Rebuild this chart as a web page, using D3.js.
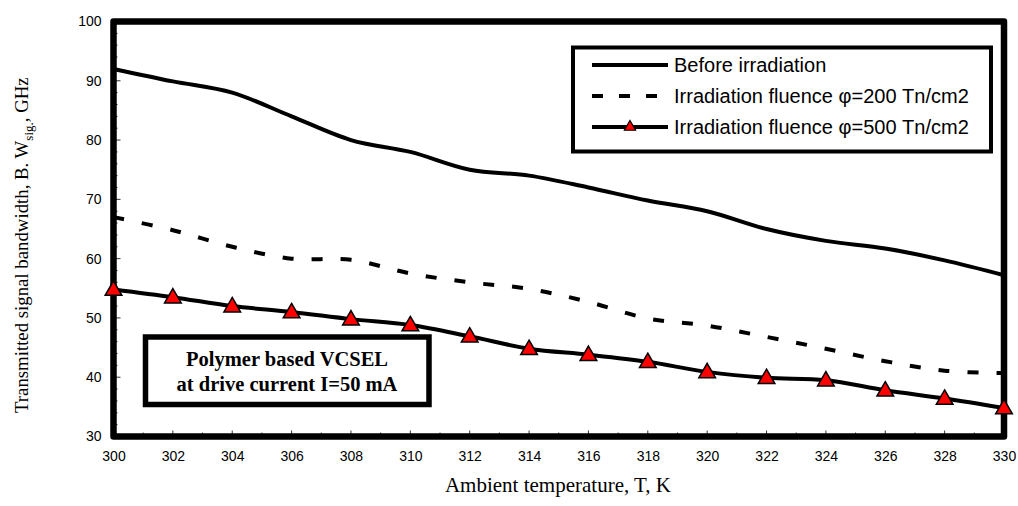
<!DOCTYPE html>
<html><head><meta charset="utf-8">
<script src="https://cdn.jsdelivr.net/npm/d3@7"></script>
<style>
html,body{margin:0;padding:0;background:#fff;}
svg{display:block;}
</style></head>
<body>
<svg id="chart" width="1018" height="506"></svg>
<script>
// ---- data ----
const temperatures = [300,302,304,306,308,310,312,314,316,318,320,322,324,326,328,330];
const beforeIrradiation = [92,89.9,88,84,80,78,75,74,72,69.8,68,65,63,61.7,59.7,57.2];
const fluence200 = [67,64.8,62,60,59.8,57.5,56,54.9,52.7,49.9,48.7,46.8,44.8,42.7,41.1,40.7];
const fluence500 = [54.8,53.5,52,51,49.8,48.8,46.9,44.8,43.8,42.6,40.9,39.9,39.5,37.8,36.4,34.8];
const seriesNames = ["Before irradiation","Irradiation fluence \u03c6=200 Tn/cm2","Irradiation fluence \u03c6=500 Tn/cm2"];
const xTicks = [300,302,304,306,308,310,312,314,316,318,320,322,324,326,328,330];
const yTicks = [30,40,50,60,70,80,90,100];
const noteLines = ["Polymer based VCSEL","at drive current I=50 mA"];

const svg = d3.select("#chart");
const L = 113.5, R = 1004, T = 21.5, B = 436.5;
const x = d3.scaleLinear().domain([300,330]).range([L,R]);
const y = d3.scaleLinear().domain([30,100]).range([B,T]);
const sans = "'Liberation Sans', Arial, sans-serif";
const serif = "'Liberation Serif', 'Times New Roman', serif";

// minor ticks (inside)
const g = svg.append("g");
const xMinor = d3.range(300,331,1);
g.selectAll(".xm").data(xMinor).enter().append("line")
  .attr("x1",d=>x(d)).attr("x2",d=>x(d))
  .attr("y1",B).attr("y2",d=>B-(d%2===0?6:4))
  .attr("stroke","#333").attr("stroke-width",1);
const yMinor = d3.range(30,101,2);
g.selectAll(".ym").data(yMinor).enter().append("line")
  .attr("y1",d=>y(d)).attr("y2",d=>y(d))
  .attr("x1",L).attr("x2",d=>L+(d%10===0?7:4))
  .attr("stroke","#333").attr("stroke-width",1);

// axes labels via d3 axes (domain & ticks hidden)
const xAxis = svg.append("g").attr("transform",`translate(0,${B})`)
  .call(d3.axisBottom(x).tickValues(xTicks).tickSize(0).tickPadding(15).tickFormat(d3.format("d")));
xAxis.select(".domain").remove();
xAxis.selectAll("text").attr("font-family",sans).attr("font-size","14px").attr("fill","#000");
const yAxis = svg.append("g").attr("transform",`translate(${L},0)`)
  .call(d3.axisLeft(y).tickValues(yTicks).tickSize(0).tickPadding(12).tickFormat(d3.format("d")));
yAxis.select(".domain").remove();
yAxis.selectAll("text").attr("font-family",sans).attr("font-size","14px").attr("fill","#000");

// lines
const pts = arr => temperatures.map((t,i)=>[t,arr[i]]);
const line = d3.line().x(d=>x(d[0])).y(d=>y(d[1])).curve(d3.curveCardinal.tension(0));
svg.append("path").attr("d",line(pts(beforeIrradiation))).attr("fill","none")
  .attr("stroke","#000").attr("stroke-width",4);
svg.append("path").attr("d",line(pts(fluence200))).attr("fill","none")
  .attr("stroke","#000").attr("stroke-width",4).attr("stroke-dasharray","11,18");
svg.append("path").attr("d",line(pts(fluence500))).attr("fill","none")
  .attr("stroke","#000").attr("stroke-width",4);

// frame
svg.append("rect").attr("x",L).attr("y",T).attr("width",R-L).attr("height",B-T)
  .attr("fill","none").attr("stroke","#000").attr("stroke-width",6.5).attr("stroke-linejoin","round");

// triangle markers
const tri = d3.symbol().type(d3.symbolTriangle).size(120);
svg.selectAll(".tri").data(pts(fluence500)).enter().append("path")
  .attr("d",tri).attr("transform",d=>`translate(${x(d[0])},${y(d[1])+1})`)
  .attr("fill","#ff0000").attr("stroke","#000").attr("stroke-width",1.5);

// legend
const lg = svg.append("g");
lg.append("rect").attr("x",573).attr("y",47.5).attr("width",418).attr("height",104)
  .attr("fill","#fff").attr("stroke","#000").attr("stroke-width",4);
const rowsY = [65,96,127];
const lx1 = 592, lx2 = 668;
lg.append("line").attr("x1",lx1).attr("x2",lx2).attr("y1",rowsY[0]).attr("y2",rowsY[0]).attr("stroke","#000").attr("stroke-width",4);
lg.append("line").attr("x1",lx1).attr("x2",lx2).attr("y1",rowsY[1]).attr("y2",rowsY[1]).attr("stroke","#000").attr("stroke-width",4).attr("stroke-dasharray","11,16");
lg.append("line").attr("x1",lx1).attr("x2",lx2).attr("y1",rowsY[2]).attr("y2",rowsY[2]).attr("stroke","#000").attr("stroke-width",4);
lg.append("path").attr("d",d3.symbol().type(d3.symbolTriangle).size(55))
  .attr("transform",`translate(${(lx1+lx2)/2},${rowsY[2]})`)
  .attr("fill","#ff0000").attr("stroke","#000").attr("stroke-width",1.2);
lg.selectAll(".lt").data(seriesNames).enter().append("text")
  .attr("x",674).attr("y",(d,i)=>rowsY[i]+7)
  .attr("font-family",sans).attr("font-size","20px").attr("fill","#000")
  .text(d=>d);

// annotation box
const nb = svg.append("g");
nb.append("rect").attr("x",145.5).attr("y",337).attr("width",283.5).attr("height",67.5)
  .attr("fill","#fff").attr("stroke","#000").attr("stroke-width",5.5);
nb.selectAll("text").data(noteLines).enter().append("text")
  .attr("x",287).attr("y",(d,i)=>366+i*25).attr("text-anchor","middle")
  .attr("font-family",serif).attr("font-weight","bold").attr("font-size","20.5px").attr("fill","#000")
  .text(d=>d);

// axis titles
svg.append("text").attr("x",558).attr("y",492).attr("text-anchor","middle")
  .attr("font-family",serif).attr("font-size","21px").attr("fill","#000")
  .text("Ambient temperature, T, K");
const yt = svg.append("text").attr("transform","translate(28,413) rotate(-90)")
  .attr("text-anchor","start").attr("font-family",serif).attr("font-size","18.8px").attr("fill","#000");
yt.append("tspan").text("Transmitted signal bandwidth, B. W");
yt.append("tspan").attr("font-size","13px").attr("dy","5").text("sig.");
yt.append("tspan").attr("dy","-5").text(", GHz");
</script>
</body></html>
